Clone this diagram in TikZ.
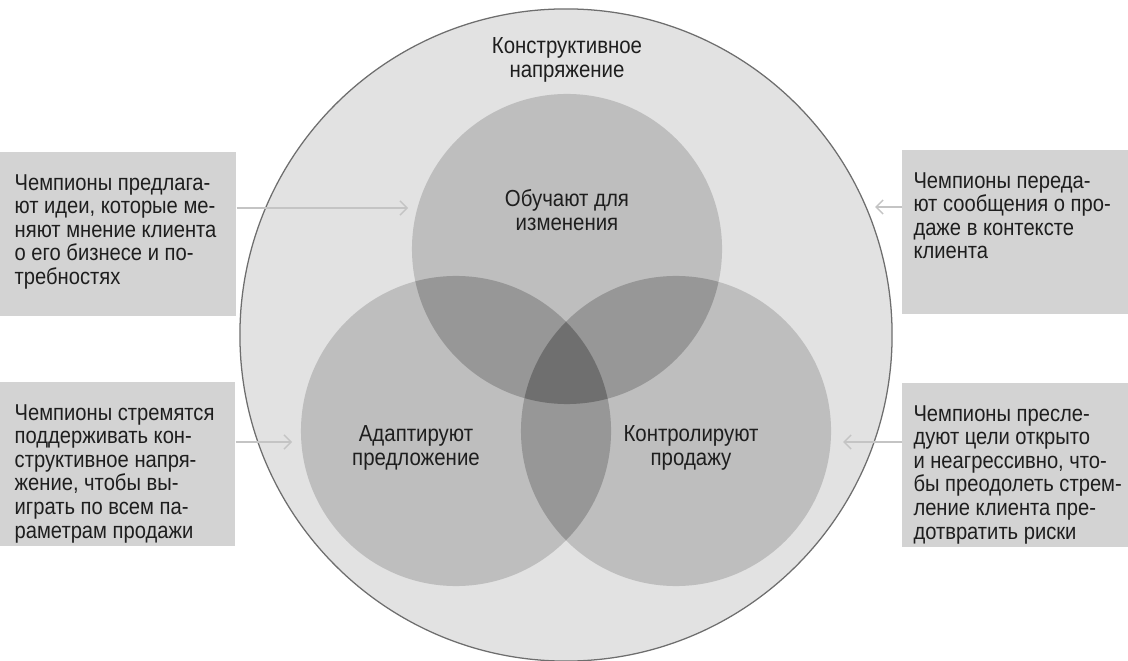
\documentclass[tikz,border=0pt]{standalone}
\usepackage{fontspec}
\setmainfont{Liberation Sans}[FakeStretch=0.88]
\usetikzlibrary{arrows.meta}

\definecolor{ringfill}{HTML}{E2E2E2}
\definecolor{ringline}{HTML}{6E6E6E}
\definecolor{discfill}{HTML}{BEBEBE}
\definecolor{pairfill}{HTML}{979797}
\definecolor{corefill}{HTML}{6F6F6F}
\definecolor{boxfill}{HTML}{D3D3D3}
\definecolor{arrowgray}{HTML}{C4C4C4}
\definecolor{ink}{HTML}{1E1E1E}

\begin{document}
\begin{tikzpicture}[x=0.025cm,y=-0.025cm,
        disc/.style={circle,fill=discfill,minimum size=7.75cm,inner sep=0pt},
        boxnode/.style={fill=boxfill,anchor=north west,inner sep=0pt,minimum height=4.1cm},
        boxtext/.style={anchor=north west,inner sep=0pt,align=left,text=ink,
            font=\fontsize{16.3}{16.8}\selectfont},
        label/.style={align=center,text=ink,font=\fontsize{16.5}{17.6}\selectfont},
        pointer/.style={draw=arrowgray,line width=1pt,
            -{Straight Barb[length=5pt,width=10pt,line width=1pt]}}]

    \useasboundingbox (0,0) rectangle (1128,661);

    \node[circle, fill=ringfill, draw=ringline, line width=0.9pt,
        minimum size=16.3cm, inner sep=0pt] (tension) at (566,335) {};

    \node[disc] (teach) at (567,249) {};
    \node[disc] (tailor) at (456,431) {};
    \node[disc] (control) at (676,431) {};

    \begin{scope}
        \clip (teach.center) circle[radius=3.875cm];
        \fill[pairfill] (tailor.center) circle[radius=3.875cm];
        \fill[pairfill] (control.center) circle[radius=3.875cm];
    \end{scope}
    \begin{scope}
        \clip (tailor.center) circle[radius=3.875cm];
        \fill[pairfill] (control.center) circle[radius=3.875cm];
    \end{scope}
    \begin{scope}
        \clip (teach.center) circle[radius=3.875cm];
        \clip (tailor.center) circle[radius=3.875cm];
        \fill[corefill] (control.center) circle[radius=3.875cm];
    \end{scope}

    \node[label] (tensiontxt) at (567,60) {Конструктивное\\напряжение};
    \node[label] (teachtxt) at (567,210) {Обучают для\\изменения};
    \node[label] (tailortxt) at (416,448) {Адаптируют\\предложение};
    \node[label] (controltxt) at (691,448) {Контролируют\\продажу};

    \node[boxnode, minimum width=5.9cm] (ideas) at (0,152) {};
    \node[boxnode, minimum width=5.875cm] (win) at (0,382) {};
    \node[boxnode, minimum width=5.65cm] (context) at (902,150) {};
    \node[boxnode, minimum width=5.65cm] (goals) at (902,383) {};

    \node[boxtext] (ideastxt) at ([shift={(0.36cm,-0.55cm)}]ideas.north west)
        {Чемпионы предлага-\\ют идеи, которые ме-\\няют мнение клиента\\о его бизнесе и по-\\требностях};
    \node[boxtext] (wintxt) at ([shift={(0.36cm,-0.55cm)}]win.north west)
        {Чемпионы стремятся\\поддерживать кон-\\структивное напря-\\жение, чтобы вы-\\играть по всем па-\\раметрам продажи};
    \node[boxtext] (contexttxt) at ([shift={(0.28cm,-0.55cm)}]context.north west)
        {Чемпионы переда-\\ют сообщения о про-\\даже в контексте\\клиента};
    \node[boxtext] (goalstxt) at ([shift={(0.28cm,-0.55cm)}]goals.north west)
        {Чемпионы пресле-\\дуют цели открыто\\и неагрессивно, что-\\бы преодолеть стрем-\\ление клиента пре-\\дотвратить риски};

    \coordinate (ideastip) at (408,208);
    \coordinate (wintip) at (292,442);
    \coordinate (contexttip) at (875,207);
    \coordinate (goalstip) at (843,442);

    \draw[pointer] (ideas.east |- ideastip) -- (ideastip);
    \draw[pointer] (win.east |- wintip) -- (wintip);
    \draw[pointer] (context.west |- contexttip) -- (contexttip);
    \draw[pointer] (goals.west |- goalstip) -- (goalstip);

\end{tikzpicture}
\end{document}
